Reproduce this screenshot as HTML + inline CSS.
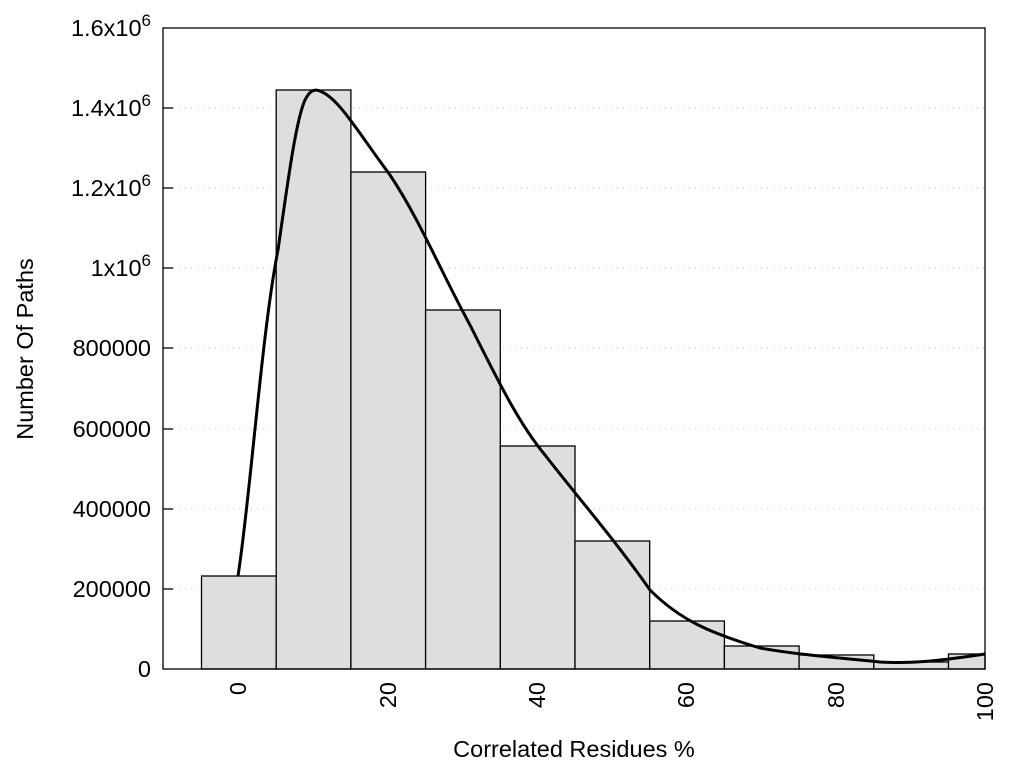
<!DOCTYPE html><html><head><style>body{margin:0;background:#fff}svg{display:block}text{font-family:"Liberation Sans",sans-serif;font-size:23.5px;fill:#000}</style></head><body>
<svg width="1024" height="768" xmlns="http://www.w3.org/2000/svg">
<g stroke="#bbb" stroke-dasharray="1,5" stroke-width="1">
<line x1="173" y1="589" x2="985" y2="589"/><line x1="173" y1="509" x2="985" y2="509"/><line x1="173" y1="429" x2="985" y2="429"/><line x1="173" y1="348" x2="985" y2="348"/><line x1="173" y1="268" x2="985" y2="268"/><line x1="173" y1="188" x2="985" y2="188"/><line x1="173" y1="108" x2="985" y2="108"/>
</g>
<g fill="#dedede" stroke="#000" stroke-width="1.3">
<rect x="201.5" y="576" width="74.7" height="93"/>
<rect x="276.2" y="90" width="74.7" height="579"/>
<rect x="350.9" y="172" width="74.7" height="497"/>
<rect x="425.6" y="310" width="74.7" height="359"/>
<rect x="500.3" y="446" width="74.7" height="223"/>
<rect x="575" y="541" width="74.7" height="128"/>
<rect x="649.7" y="621" width="74.7" height="48"/>
<rect x="724.4" y="646" width="74.7" height="23"/>
<rect x="799.1" y="655" width="74.7" height="14"/>
<rect x="873.8" y="662" width="74.7" height="7"/>
<rect x="948.5" y="654" width="36.5" height="15"/>
</g>
<path d="M238,576 C250,500 262,330 278,250 C288,180 296,120 305,100 C310,90 315,88 322,92 C340,100 360,135 390,175 C420,220 440,270 470,325 C500,385 520,425 545,455 C580,500 615,540 650,590 C680,620 710,633 760,648 C800,655 840,658 880,662 C915,664 945,660 985,654" fill="none" stroke="#000" stroke-width="3"/>
<rect x="163" y="28" width="822" height="641" fill="none" stroke="#000" stroke-width="1.3"/>
<g stroke="#000" stroke-width="1.3">
<line x1="163" y1="589" x2="173" y2="589"/><line x1="163" y1="509" x2="173" y2="509"/><line x1="163" y1="429" x2="173" y2="429"/><line x1="163" y1="348" x2="173" y2="348"/><line x1="163" y1="268" x2="173" y2="268"/><line x1="163" y1="188" x2="173" y2="188"/><line x1="163" y1="108" x2="173" y2="108"/>
</g>
<g text-anchor="end">
<text x="151" y="677">0</text>
<text x="151" y="597">200000</text>
<text x="151" y="517">400000</text>
<text x="151" y="437">600000</text>
<text x="151" y="356">800000</text>
<text x="151" y="276">1x10<tspan dy="-10" font-size="17">6</tspan></text>
<text x="151" y="196">1.2x10<tspan dy="-10" font-size="17">6</tspan></text>
<text x="151" y="116">1.4x10<tspan dy="-10" font-size="17">6</tspan></text>
<text x="151" y="36">1.6x10<tspan dy="-10" font-size="17">6</tspan></text>
</g>
<g text-anchor="end">
<text transform="translate(246,682) rotate(-90)">0</text>
<text transform="translate(396,682) rotate(-90)">20</text>
<text transform="translate(545,682) rotate(-90)">40</text>
<text transform="translate(694,682) rotate(-90)">60</text>
<text transform="translate(844,682) rotate(-90)">80</text>
<text transform="translate(993,682) rotate(-90)">100</text>
</g>
<text x="574" y="757" text-anchor="middle">Correlated Residues %</text>
<text transform="translate(33,349) rotate(-90)" text-anchor="middle">Number Of Paths</text>
</svg>
</body></html>
